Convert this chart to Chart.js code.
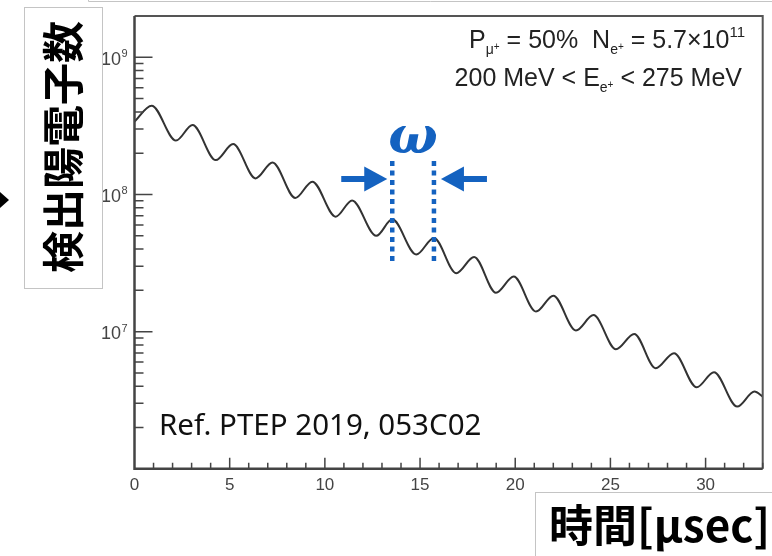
<!DOCTYPE html>
<html>
<head>
<meta charset="utf-8">
<script src="https://cdn.jsdelivr.net/npm/chart.js@4/dist/chart.umd.min.js"></script>
<style>
  body { margin: 0; background: #fff; }
  canvas { display: block; }
</style>
</head>
<body>
<canvas id="grafico" width="772" height="556"></canvas>
<script>
// valores (picos, vales e extremos da curva)
const tempos = [0, 0.90, 2.18, 3.05, 4.27, 5.18, 6.36, 7.25, 8.45, 9.34, 10.57, 11.43, 12.70, 13.54, 14.80, 15.73,
    16.90, 17.84, 18.99, 19.92, 21.09, 22.00, 23.19, 24.11, 25.29, 26.25, 27.38, 28.34, 29.53, 30.44, 31.66, 32.57, 33];
const contagens = [3.40e8, 4.44e8, 2.47e8, 3.21e8, 1.78e8, 2.33e8, 1.31e8, 1.71e8, 9.43e7, 1.24e8, 6.89e7, 9.04e7,
    4.99e7, 6.59e7, 3.65e7, 4.82e7, 2.67e7, 3.50e7, 1.92e7, 2.52e7, 1.40e7, 1.83e7, 1.02e7, 1.32e7, 7.44e6, 9.62e6,
    5.41e6, 6.96e6, 3.93e6, 5.06e6, 2.84e6, 3.66e6, 3.36e6];

const ticksX = [0, 5, 10, 15, 20, 25, 30];
const decadasY = [7, 8, 9];
const marcasOmega = [13.54, 15.73];
const faixaOmega = [1.75e8, 3.19e7];

const tituloY = "検出陽電子数";
const tituloX = "時間[μsec]";
const referencia = "Ref. PTEP 2019, 053C02";
const linha1 = [
    { t: "P", s: 25 }, { t: "μ", s: 14, dy: 6 }, { t: "+", s: 10, dy: 2 },
    { t: " = 50%  N", s: 25 }, { t: "e", s: 14, dy: 6 }, { t: "+", s: 10, dy: 2 },
    { t: " = 5.7×10", s: 25 }, { t: "11", s: 15, dy: -11 },
];
const linha2 = [
    { t: "200 MeV < E", s: 25 }, { t: "e", s: 14, dy: 6 }, { t: "+", s: 10, dy: 2 },
    { t: " < 275 MeV", s: 25 },
];

const AZUL = "#1462c0";

function textoRico(ctx, partes, direita, base) {
    let largura = 0;
    for (const p of partes) {
        ctx.font = p.s + "px 'Liberation Sans'";
        largura += ctx.measureText(p.t).width;
    }
    let cx = direita - largura;
    ctx.textAlign = "left";
    ctx.textBaseline = "alphabetic";
    for (const p of partes) {
        ctx.font = p.s + "px 'Liberation Sans'";
        ctx.fillText(p.t, cx, base + (p.dy || 0));
        cx += ctx.measureText(p.t).width;
    }
}

function seta(ctx, ponta, y, dir) {
    // dir = 1 aponta para a direita, -1 para a esquerda
    ctx.fillStyle = AZUL;
    ctx.beginPath();
    ctx.moveTo(ponta, y);
    ctx.lineTo(ponta - dir * 23, y - 12.5);
    ctx.lineTo(ponta - dir * 23, y + 12.5);
    ctx.closePath();
    ctx.fill();
    ctx.fillRect(Math.min(ponta - dir * 22, ponta - dir * 46), y - 3, 24, 6);
}

const extras = {
    id: "extras",
    afterDraw(chart) {
        const ctx = chart.ctx;
        const sx = chart.scales.x, sy = chart.scales.y;
        const a = chart.chartArea;
        ctx.save();

        // moldura
        ctx.strokeStyle = "#555";
        ctx.lineWidth = 2;
        ctx.beginPath();
        ctx.moveTo(a.left, a.top);
        ctx.lineTo(a.right, a.top);
        ctx.lineTo(a.right, a.bottom);
        ctx.stroke();
        ctx.strokeStyle = "#444";
        ctx.lineWidth = 2.5;
        ctx.beginPath();
        ctx.moveTo(a.left, a.top);
        ctx.lineTo(a.left, a.bottom);
        ctx.lineTo(a.right, a.bottom);
        ctx.stroke();

        // ticks para dentro
        ctx.lineWidth = 1.5;
        ctx.beginPath();
        for (let t = 1; t <= sx.max; t++) {
            const px = sx.getPixelForValue(t);
            const len = t % 5 === 0 ? 11 : 6;
            ctx.moveTo(px, a.bottom);
            ctx.lineTo(px, a.bottom - len);
        }
        for (let d = 6; d <= 9; d++) {
            for (let m = 1; m <= 9; m++) {
                const v = m * Math.pow(10, d);
                if (v <= sy.min || v >= sy.max) continue;
                const py = sy.getPixelForValue(v);
                const len = m === 1 ? 18 : 9;
                ctx.moveTo(a.left, py);
                ctx.lineTo(a.left + len, py);
            }
        }
        ctx.stroke();

        // rótulos do eixo y
        ctx.fillStyle = "#444";
        for (const d of decadasY) {
            const py = sy.getPixelForValue(Math.pow(10, d));
            ctx.font = "18px 'Liberation Sans'";
            ctx.textAlign = "right";
            ctx.fillText("10", 121, py + 7.5);
            ctx.font = "11px 'Liberation Sans'";
            ctx.textAlign = "left";
            ctx.fillText(String(d), 121.5, py);
        }

        // texto do canto
        ctx.fillStyle = "#222";
        textoRico(ctx, linha1, 745, 48);
        textoRico(ctx, linha2, 742, 86);

        // referência
        ctx.fillStyle = "#111";
        ctx.font = "29.5px 'Noto Sans'";
        ctx.textAlign = "left";
        ctx.fillText(referencia, 159, 435);

        // marcação do omega
        const x1 = sx.getPixelForValue(marcasOmega[0]);
        const x2 = sx.getPixelForValue(marcasOmega[1]);
        const yTopo = sy.getPixelForValue(faixaOmega[0]);
        const yBase = sy.getPixelForValue(faixaOmega[1]);
        ctx.strokeStyle = AZUL;
        ctx.lineWidth = 4.5;
        ctx.setLineDash([5, 4.5]);
        ctx.beginPath();
        ctx.moveTo(x1, yTopo); ctx.lineTo(x1, yBase);
        ctx.moveTo(x2, yTopo); ctx.lineTo(x2, yBase);
        ctx.stroke();
        ctx.setLineDash([]);
        seta(ctx, x1 - 5, 179, 1);
        seta(ctx, x2 + 7, 179, -1);
        ctx.fillStyle = AZUL;
        ctx.font = "bold italic 52px 'DejaVu Serif'";
        ctx.textAlign = "center";
        ctx.fillText("ω", (x1 + x2) / 2, 153);

        // caixas dos títulos
        ctx.strokeStyle = "#c4c4c4";
        ctx.lineWidth = 1;
        ctx.beginPath();
        ctx.moveTo(88.5, 0); ctx.lineTo(88.5, 1.5); ctx.lineTo(772, 1.5);
        ctx.stroke();
        ctx.fillStyle = "#fff";
        ctx.fillRect(24.5, 7.5, 78, 281);
        ctx.strokeRect(24.5, 7.5, 78, 281);
        ctx.fillRect(535.5, 492.5, 240, 70);
        ctx.strokeRect(535.5, 492.5, 240, 70);

        ctx.fillStyle = "#000";
        ctx.save();
        ctx.translate(63, 147);
        ctx.rotate(-Math.PI / 2);
        ctx.font = "bold 42px 'Noto Sans CJK JP'";
        ctx.textAlign = "center";
        ctx.textBaseline = "middle";
        ctx.fillText(tituloY, 0, 0);
        ctx.restore();

        ctx.font = "bold 44px 'Noto Sans CJK JP'";
        ctx.textAlign = "left";
        ctx.textBaseline = "middle";
        ctx.fillText(tituloX, 549, 525);

        // seta preta na borda esquerda
        ctx.beginPath();
        ctx.moveTo(0, 192); ctx.lineTo(9, 200); ctx.lineTo(0, 208);
        ctx.closePath();
        ctx.fill();

        ctx.restore();
    }
};

new Chart(document.getElementById("grafico").getContext("2d"), {
    type: "line",
    data: {
        datasets: [{
            data: tempos.map((t, i) => ({ x: t, y: contagens[i] })),
            borderColor: "#333",
            borderWidth: 2,
            pointRadius: 0,
            cubicInterpolationMode: "monotone",
            fill: false,
        }],
    },
    options: {
        responsive: false,
        animation: false,
        devicePixelRatio: 1,
        layout: { padding: { left: 134.5, right: 9.3, top: 16, bottom: 54.8 } },
        plugins: { legend: { display: false }, tooltip: { enabled: false } },
        scales: {
            x: {
                type: "linear", min: 0, max: 33,
                grid: { display: false, drawTicks: false },
                border: { display: false },
                afterBuildTicks: (s) => { s.ticks = ticksX.map(v => ({ value: v })); },
                ticks: {
                    autoSkip: false, maxRotation: 0, padding: 6, color: "#444",
                    font: { family: "'Liberation Sans'", size: 17 },
                },
            },
            y: {
                type: "logarithmic", min: 1e6, max: 2e9,
                grid: { display: false, drawTicks: false },
                border: { display: false },
                ticks: { display: false },
            },
        },
    },
    plugins: [extras],
});
</script>
</body>
</html>
